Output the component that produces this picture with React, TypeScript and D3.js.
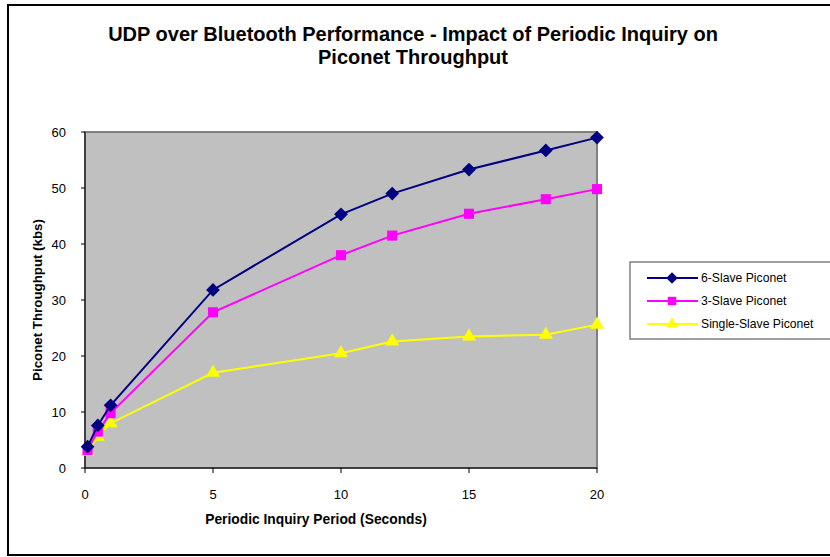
import { useRef, useEffect } from 'react';
import * as d3 from 'd3';

const periods = [0.1, 0.5, 1, 5, 10, 12, 15, 18, 20];
const sixSlave = [3.8, 7.6, 11.2, 31.8, 45.3, 49.0, 53.3, 56.7, 59.0];
const threeSlave = [3.2, 6.5, 9.8, 27.8, 38.0, 41.5, 45.4, 48.0, 49.8];
const singleSlave = [2.9, 5.6, 8.0, 17.0, 20.5, 22.6, 23.5, 23.8, 25.6];

const seriesNames = ['6-Slave Piconet', '3-Slave Piconet', 'Single-Slave Piconet'];
const seriesColors = ['#000080', '#FF00FF', '#FFFF00'];
const seriesSymbols = [d3.symbolDiamond2, d3.symbolSquare2, d3.symbolTriangle2];
const xTicks = [0, 5, 10, 15, 20];
const yTicks = [0, 10, 20, 30, 40, 50, 60];

const W = 830;
const H = 557;

export default function App() {
  const svgRef = useRef<SVGSVGElement>(null);

  useEffect(() => {
    const svg = d3.select(svgRef.current);
    svg.selectAll('*').remove();

    const font = 'Liberation Sans, Arial, sans-serif';

    // outer frame (right edge cropped out of the picture)
    svg.append('rect').attr('x', 8).attr('y', 5).attr('width', 860).attr('height', 550)
      .attr('fill', '#fff').attr('stroke', '#000').attr('stroke-width', 2);

    // title
    const title = svg.append('text').attr('text-anchor', 'middle')
      .attr('font-family', font).attr('font-weight', 'bold').attr('font-size', 20);
    title.append('tspan').attr('x', 413).attr('y', 41).text('UDP over Bluetooth Performance - Impact of Periodic Inquiry on');
    title.append('tspan').attr('x', 413).attr('y', 64).text('Piconet Throughput');

    const left = 85, right = 597, top = 132, bottom = 468;
    const x = d3.scaleLinear().domain([0, 20]).range([left, right]);
    const y = d3.scaleLinear().domain([0, 60]).range([bottom, top]);

    // plot area
    svg.append('rect').attr('x', left).attr('y', top)
      .attr('width', right - left).attr('height', bottom - top)
      .attr('fill', '#C0C0C0').attr('stroke', '#808080').attr('stroke-width', 2);

    // axes
    svg.append('line').attr('x1', left).attr('x2', left).attr('y1', top).attr('y2', bottom)
      .attr('stroke', '#000').attr('stroke-width', 1);
    svg.append('line').attr('x1', left).attr('x2', right).attr('y1', bottom).attr('y2', bottom)
      .attr('stroke', '#000').attr('stroke-width', 1);

    yTicks.forEach(t => {
      svg.append('line').attr('x1', left - 4).attr('x2', left).attr('y1', y(t)).attr('y2', y(t))
        .attr('stroke', '#000');
      svg.append('text').attr('x', 66).attr('y', y(t) + 5)
        .attr('text-anchor', 'end').attr('font-family', font).attr('font-size', 13)
        .text(t);
    });
    xTicks.forEach(t => {
      svg.append('line').attr('x1', x(t)).attr('x2', x(t)).attr('y1', bottom).attr('y2', bottom + 5)
        .attr('stroke', '#000');
      svg.append('text').attr('x', x(t)).attr('y', 499)
        .attr('text-anchor', 'middle').attr('font-family', font).attr('font-size', 13)
        .text(t);
    });

    svg.append('text').attr('x', 316).attr('y', 524).attr('text-anchor', 'middle')
      .attr('font-family', font).attr('font-weight', 'bold').attr('font-size', 13.8)
      .text('Periodic Inquiry Period (Seconds)');
    svg.append('text').attr('transform', `translate(42,300) rotate(-90)`).attr('text-anchor', 'middle')
      .attr('font-family', font).attr('font-weight', 'bold').attr('font-size', 13.3)
      .text('Piconet Throughput (kbs)');

    const allSeries = [sixSlave, threeSlave, singleSlave];
    const line = d3.line<[number, number]>().x(d => x(d[0])).y(d => y(d[1]));
    const sizes = [120, 130, 140];

    allSeries.slice().reverse().forEach((vals, ri) => {
      const i = allSeries.length - 1 - ri;
      const pts: [number, number][] = periods.map((p, j) => [p, vals[j]]);
      svg.append('path').datum(pts).attr('d', line).attr('fill', 'none')
        .attr('stroke', seriesColors[i]).attr('stroke-width', 2);
      const sym = d3.symbol().type(seriesSymbols[i]).size(sizes[i]);
      pts.forEach(p => {
        svg.append('path').attr('d', sym()!)
          .attr('transform', `translate(${x(p[0])},${y(p[1])})`)
          .attr('fill', seriesColors[i]);
      });
    });

    // legend
    svg.append('rect').attr('x', 630).attr('y', 262).attr('width', 210).attr('height', 77)
      .attr('fill', '#fff').attr('stroke', '#808080').attr('stroke-width', 1.5);
    seriesNames.forEach((name, i) => {
      const ly = 278 + i * 23;
      svg.append('line').attr('x1', 647).attr('x2', 698).attr('y1', ly).attr('y2', ly)
        .attr('stroke', seriesColors[i]).attr('stroke-width', 2);
      const sym = d3.symbol().type(seriesSymbols[i]).size(sizes[i] * 0.7);
      svg.append('path').attr('d', sym()!).attr('transform', `translate(672,${ly})`)
        .attr('fill', seriesColors[i]);
      svg.append('text').attr('x', 701).attr('y', ly + 4).attr('font-family', font)
        .attr('font-size', 12.2).text(name);
    });
  }, []);

  return (
    <svg ref={svgRef} width={W} height={H}
      style={{ position: 'absolute', left: 0, top: 0, display: 'block' }} />
  );
}
